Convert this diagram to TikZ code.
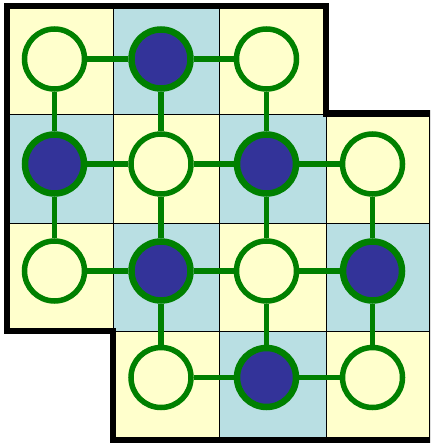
\documentclass[tikz,border=0pt]{standalone}
\definecolor{cellY}{HTML}{FFFFCC}
\definecolor{cellB}{HTML}{B9DFE3}
\definecolor{dotB}{HTML}{333399}
\definecolor{edgeG}{HTML}{008000}
\begin{document}
\begin{tikzpicture}[x=1pt,y=-1pt,
 ycell/.style={fill=cellY,draw=black,line width=0.9pt},
 bcell/.style={fill=cellB,draw=black,line width=0.9pt},
 ydot/.style={circle,draw=edgeG,line width=5.5pt,fill=cellY,minimum size=60pt,inner sep=0pt},
 bdot/.style={circle,draw=edgeG,line width=6.5pt,fill=dotB,minimum size=59pt,inner sep=0pt},
 link/.style={draw=edgeG,line width=5.5pt},
 outline/.style={draw=black,line width=6.8pt,line join=miter}]
\clip (0,0) rectangle (430,443);
\fill[white] (0,0) rectangle (430,443);
% cells
\path[ycell] (7,6) rectangle (113,114);
\path[bcell] (113,6) rectangle (219,114);
\path[ycell] (219,6) rectangle (326,114);
\path[bcell] (7,114) rectangle (113,223);
\path[ycell] (113,114) rectangle (219,223);
\path[bcell] (219,114) rectangle (326,223);
\path[ycell] (326,114) rectangle (429,223);
\path[ycell] (7,223) rectangle (113,331);
\path[bcell] (113,223) rectangle (219,331);
\path[ycell] (219,223) rectangle (326,331);
\path[bcell] (326,223) rectangle (429,331);
\path[ycell] (113,331) rectangle (219,440);
\path[bcell] (219,331) rectangle (326,440);
\path[ycell] (326,331) rectangle (429,440);
% outline
\path[outline] (7,6) -- (326,6) -- (326,113.5) -- (432,113.5) -- (432,440) -- (113,440) -- (113,331) -- (7,331) -- cycle;
% dots
\node[ydot] (a0) at (54.5,59) {};
\node[bdot] (a1) at (161,59) {};
\node[ydot] (a2) at (266.5,59) {};
\node[bdot] (b0) at (54.5,164) {};
\node[ydot] (b1) at (161,164) {};
\node[bdot] (b2) at (266.5,164) {};
\node[ydot] (b3) at (372.5,164) {};
\node[ydot] (c0) at (54.5,271) {};
\node[bdot] (c1) at (161,271) {};
\node[ydot] (c2) at (266.5,271) {};
\node[bdot] (c3) at (372.5,271) {};
\node[ydot] (d1) at (161,377.5) {};
\node[bdot] (d2) at (266.5,377.5) {};
\node[ydot] (d3) at (372.5,377.5) {};
% links
\path[link] (a0) -- (a1); \path[link] (a1) -- (a2);
\path[link] (a0) -- (b0); \path[link] (a1) -- (b1); \path[link] (a2) -- (b2);
\path[link] (b0) -- (b1); \path[link] (b1) -- (b2); \path[link] (b2) -- (b3);
\path[link] (b0) -- (c0); \path[link] (b1) -- (c1); \path[link] (b2) -- (c2); \path[link] (b3) -- (c3);
\path[link] (c0) -- (c1); \path[link] (c1) -- (c2); \path[link] (c2) -- (c3);
\path[link] (c1) -- (d1); \path[link] (c2) -- (d2); \path[link] (c3) -- (d3);
\path[link] (d1) -- (d2); \path[link] (d2) -- (d3);
\end{tikzpicture}
\end{document}
